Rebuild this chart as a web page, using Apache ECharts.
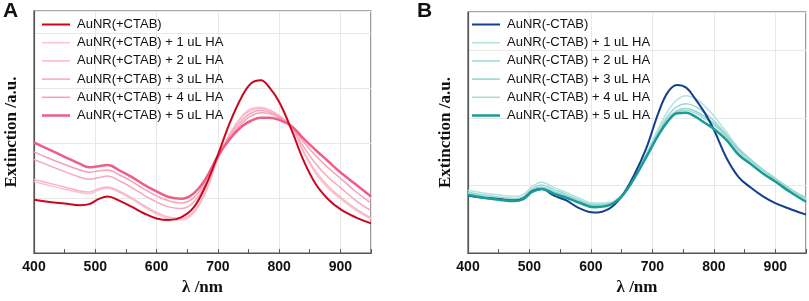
<!DOCTYPE html>
<html>
<head>
<meta charset="utf-8">
<script src="https://cdn.jsdelivr.net/npm/echarts@6/dist/echarts.min.js"></script>
<style>
    html, body { margin: 0; padding: 0; background: #fff; }
    #chart { width: 809px; height: 301px; }
</style>
</head>
<body>
<div id="chart"></div>
<script>
// wavelength (nm)
const lambdaA = [400, 425, 450, 475, 490, 505, 520, 540, 560, 580, 600, 620, 640, 660, 680, 700, 720, 740, 755, 770, 785, 800, 820, 840, 860, 880, 900, 925, 950];
const lambdaB = [400, 425, 450, 475, 490, 505, 520, 540, 560, 580, 605, 630, 650, 670, 690, 710, 725, 740, 755, 770, 785, 800, 820, 840, 860, 880, 900, 925, 950];
const xTicks = [400, 500, 600, 700, 800, 900];

// panel A: AuNR(+CTAB)
const namesA = ['AuNR(+CTAB)', 'AuNR(+CTAB) + 1 uL HA', 'AuNR(+CTAB) + 2 uL HA', 'AuNR(+CTAB) + 3 uL HA', 'AuNR(+CTAB) + 4 uL HA', 'AuNR(+CTAB) + 5 uL HA'];
const ctab0 = [0.97, 0.93, 0.90, 0.87, 0.89, 0.98, 1.03, 0.95, 0.84, 0.72, 0.63, 0.60, 0.65, 0.82, 1.22, 1.78, 2.38, 2.86, 3.09, 3.14, 3.00, 2.75, 2.25, 1.68, 1.25, 0.98, 0.80, 0.65, 0.54];
const ctab1 = [1.30, 1.23, 1.16, 1.10, 1.08, 1.14, 1.18, 1.10, 0.98, 0.84, 0.71, 0.62, 0.60, 0.72, 1.10, 1.70, 2.18, 2.50, 2.63, 2.65, 2.60, 2.50, 2.30, 1.82, 1.44, 1.18, 0.99, 0.78, 0.62];
const ctab2 = [1.34, 1.27, 1.20, 1.13, 1.11, 1.17, 1.20, 1.12, 1.00, 0.86, 0.74, 0.65, 0.63, 0.75, 1.12, 1.72, 2.17, 2.48, 2.60, 2.63, 2.59, 2.50, 2.30, 1.85, 1.48, 1.22, 1.02, 0.81, 0.64];
const ctab3 = [1.70, 1.59, 1.48, 1.38, 1.34, 1.37, 1.40, 1.31, 1.19, 1.05, 0.93, 0.84, 0.81, 0.92, 1.25, 1.74, 2.14, 2.42, 2.55, 2.59, 2.56, 2.48, 2.30, 1.93, 1.62, 1.38, 1.19, 0.96, 0.77];
const ctab4 = [1.84, 1.72, 1.61, 1.51, 1.47, 1.49, 1.51, 1.42, 1.30, 1.16, 1.04, 0.95, 0.91, 1.00, 1.30, 1.75, 2.10, 2.37, 2.50, 2.55, 2.53, 2.46, 2.30, 2.02, 1.77, 1.55, 1.36, 1.12, 0.91];
const ctab5 = [2.01, 1.88, 1.75, 1.62, 1.56, 1.58, 1.60, 1.50, 1.38, 1.24, 1.12, 1.02, 0.99, 1.08, 1.35, 1.76, 2.08, 2.31, 2.41, 2.46, 2.46, 2.42, 2.31, 2.08, 1.87, 1.67, 1.47, 1.25, 1.03];

// panel B: AuNR(-CTAB)
const namesB = ['AuNR(-CTAB)', 'AuNR(-CTAB) + 1 uL HA', 'AuNR(-CTAB) + 2 uL HA', 'AuNR(-CTAB) + 3 uL HA', 'AuNR(-CTAB) + 4 uL HA', 'AuNR(-CTAB) + 5 uL HA'];
const free0 = [0.85, 0.82, 0.80, 0.78, 0.81, 0.92, 0.95, 0.85, 0.78, 0.67, 0.60, 0.66, 0.84, 1.15, 1.55, 2.08, 2.38, 2.49, 2.45, 2.28, 2.08, 1.83, 1.42, 1.13, 0.97, 0.84, 0.74, 0.65, 0.57];
const free1 = [0.93, 0.89, 0.86, 0.84, 0.87, 0.99, 1.05, 0.97, 0.90, 0.82, 0.74, 0.75, 0.86, 1.12, 1.47, 1.85, 2.10, 2.27, 2.33, 2.29, 2.18, 2.03, 1.80, 1.56, 1.39, 1.24, 1.11, 0.95, 0.82];
const free2 = [0.90, 0.86, 0.83, 0.81, 0.84, 0.96, 1.01, 0.94, 0.87, 0.79, 0.72, 0.73, 0.85, 1.11, 1.45, 1.80, 2.03, 2.17, 2.21, 2.17, 2.08, 1.96, 1.76, 1.54, 1.38, 1.23, 1.10, 0.94, 0.81];
const free3 = [0.88, 0.84, 0.81, 0.79, 0.82, 0.94, 0.98, 0.91, 0.85, 0.77, 0.70, 0.72, 0.84, 1.10, 1.44, 1.78, 1.99, 2.11, 2.14, 2.10, 2.02, 1.92, 1.74, 1.53, 1.37, 1.23, 1.10, 0.94, 0.81];
const free4 = [0.87, 0.83, 0.80, 0.78, 0.81, 0.92, 0.96, 0.90, 0.84, 0.76, 0.69, 0.71, 0.84, 1.10, 1.43, 1.77, 1.97, 2.09, 2.11, 2.07, 1.99, 1.90, 1.72, 1.51, 1.36, 1.22, 1.09, 0.93, 0.80];
const free5 = [0.86, 0.82, 0.79, 0.77, 0.80, 0.91, 0.95, 0.88, 0.82, 0.75, 0.68, 0.71, 0.84, 1.10, 1.42, 1.75, 1.95, 2.07, 2.08, 2.02, 1.93, 1.84, 1.68, 1.46, 1.32, 1.18, 1.06, 0.90, 0.76];

const colorsA = ['#c9081e', '#fbc3d2', '#f9b5c7', '#f7a7bd', '#f6a0b8', '#ef5e88'];
const widthsA = [2, 1.5, 1.5, 1.5, 1.5, 2.5];
const colorsB = ['#12408c', '#b3e2df', '#9dd8d4', '#91d3ce', '#a6dcd8', '#1a9c95'];
const widthsB = [2, 1.5, 1.5, 1.5, 1.5, 2.5];

const chart = echarts.init(document.getElementById('chart'));

function pairs(xs, ys) {
    return xs.map((x, i) => [x, ys[i]]);
}

function makeX(gridIndex) {
    return {
        type: 'value',
        gridIndex: gridIndex,
        min: 400,
        max: 950,
        interval: 100,
        name: 'λ /nm',
        nameLocation: 'middle',
        nameGap: 24,
        nameTextStyle: {
            fontFamily: 'Liberation Serif',
            fontWeight: 'bold',
            fontSize: 17,
            color: '#111'
        },
        axisLine: { lineStyle: { color: '#555', width: 1.2 } },
        axisTick: { inside: true, length: 4, lineStyle: { color: '#555' } },
        minorTick: { show: true, splitNumber: 2, length: 4, lineStyle: { color: '#555' } },
        splitLine: { show: true, lineStyle: { color: '#e8e8e8' } },
        axisLabel: {
            margin: 7,
            fontFamily: 'Liberation Sans',
            fontWeight: 'bold',
            fontSize: 14,
            color: '#111',
            customValues: xTicks
        }
    };
}

function makeY(gridIndex, max) {
    return {
        type: 'value',
        gridIndex: gridIndex,
        min: 0,
        max: max,
        interval: 1,
        name: 'Extinction /a.u.',
        nameLocation: 'middle',
        nameGap: 14,
        nameTextStyle: {
            fontFamily: 'Liberation Serif',
            fontWeight: 'bold',
            fontSize: 17,
            color: '#111'
        },
        axisLine: { show: true, lineStyle: { color: '#555', width: 1.2 } },
        axisTick: { show: false },
        axisLabel: { show: false },
        splitLine: { show: true, lineStyle: { color: '#e8e8e8' } }
    };
}

const seriesA = [ctab0, ctab1, ctab2, ctab3, ctab4, ctab5].map((d, i) => ({
    name: namesA[i],
    type: 'line',
    xAxisIndex: 0,
    yAxisIndex: 0,
    smooth: 0.4,
    symbol: 'none',
    lineStyle: { color: colorsA[i], width: widthsA[i] },
    itemStyle: { color: colorsA[i] },
    z: i === 0 ? 3 : 2,
    data: pairs(lambdaA, d)
}));

const seriesB = [free0, free1, free2, free3, free4, free5].map((d, i) => ({
    name: namesB[i],
    type: 'line',
    xAxisIndex: 1,
    yAxisIndex: 1,
    smooth: 0.4,
    symbol: 'none',
    lineStyle: { color: colorsB[i], width: widthsB[i] },
    itemStyle: { color: colorsB[i] },
    z: (i === 0 || i === 5) ? 3 : 2,
    data: pairs(lambdaB, d)
}));

// legend swatch: a flat bar as thick as the line
function swatch(w) {
    return 'path://M0,0 L28,0 L28,' + w + ' L0,' + w + ' Z';
}

function makeLegend(names, widths, left) {
    return {
        data: names.map((n, i) => ({ name: n, icon: swatch(widths[i]) })),
        orient: 'vertical',
        left: left,
        top: 13,
        itemWidth: 28,
        itemHeight: 14,
        itemGap: 5.2,
        selectedMode: false,
        textStyle: {
            fontFamily: 'Liberation Sans',
            fontSize: 13,
            color: '#111',
            padding: [0, 0, 0, 2]
        }
    };
}

const option = {
    animation: false,
    backgroundColor: '#fff',
    grid: [
        { left: 34, top: 11, width: 337, height: 253, show: true, borderColor: '#555', borderWidth: 1.2 },
        { left: 468, top: 12, width: 338, height: 252, show: true, borderColor: '#555', borderWidth: 1.2 }
    ],
    xAxis: [makeX(0), makeX(1)],
    yAxis: [makeY(0, 4.4), makeY(1, 3.57)],
    legend: [makeLegend(namesA, widthsA, 37), makeLegend(namesB, widthsB, 467)],
    graphic: [
        { type: 'text', left: 3, top: 1, style: { text: 'A', font: 'bold 21px Liberation Sans', fill: '#111' } },
        { type: 'text', left: 417, top: 1, style: { text: 'B', font: 'bold 21px Liberation Sans', fill: '#111' } }
    ],
    series: seriesA.concat(seriesB)
};

chart.setOption(option);
</script>
</body>
</html>
